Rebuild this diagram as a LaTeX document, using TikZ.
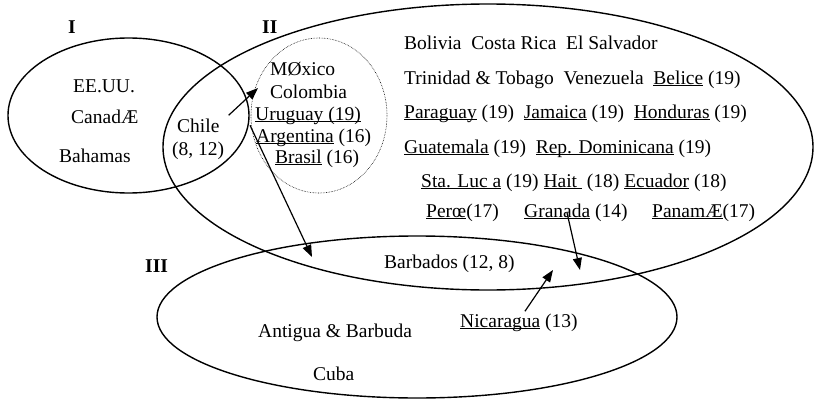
\documentclass[tikz,border=0pt]{standalone}
\usepackage{fontspec}
\setmainfont{Liberation Serif}
\usepackage{tikz}
\usetikzlibrary{shapes.geometric}
\usetikzlibrary{arrows.meta}
\newcommand{\undl}[1]{\underline{\smash{#1}}}

\begin{document}
\begin{tikzpicture}[x=1pt, y=-1pt,
        font=\fontsize{19.5}{23}\selectfont,
        group/.style={ellipse, draw=black, line width=1.4pt, inner sep=0pt},
        subgroup/.style={ellipse, draw=black, densely dotted, line width=0.6pt, inner sep=0pt},
        numeral/.style={anchor=base west, inner sep=0pt, font=\fontsize{19.5}{23}\selectfont\bfseries},
        country/.style={anchor=base west, inner sep=0pt},
        flow/.style={-{Triangle[length=12pt, width=9pt]}, line width=1.2pt}
    ]
    \useasboundingbox (0,0) rectangle (815,399);

    % the three groups and the dotted subgroup
    \node[group, minimum width=241pt, minimum height=155pt] (set_I) at (128.5,115.5) {};
    \node[group, minimum width=650pt, minimum height=286pt] (set_II) at (488,147) {};
    \node[group, minimum width=520pt, minimum height=162pt] (set_III) at (417,317) {};
    \node[subgroup, minimum width=136pt, minimum height=155pt] (sub_II) at (319,115.5) {};

    \node[numeral] (num_I) at (68,33) {I};
    \node[numeral] (num_II) at (262,33) {II};
    \node[numeral] (num_III) at (145,272) {III};

    % group I
    \node[country] (usa) at (73,92) {EE.UU.};
    \node[country] (can) at (71,123) {CanadÆ};
    \node[country] (bah) at (59,162) {Bahamas};
    \node[country] (chile) at (177,132) {Chile};
    \node[country] (chile_n) at (172,155) {(8, 12)};

    % dotted subgroup
    \node[country] (mex) at (270,75) {MØxico};
    \node[country] (col) at (270,98) {Colombia};
    \node[country] (uru) at (255,120) {\undl{Uruguay (19)}};
    \node[country] (arg) at (256,142) {\undl{Argentina} (16)};
    \node[country] (bra) at (275,163) {\undl{Brasil} (16)};

    % group II
    \node[country] (row_1) at (404,49) {Bolivia~~Costa Rica~~El Salvador};
    \node[country] (row_2) at (404,84) {Trinidad \& Tobago~~Venezuela~~\undl{Belice} (19)};
    \node[country] (row_3) at (404,118) {\undl{Paraguay} (19)~~\undl{Jamaica} (19)~~\undl{Honduras} (19)};
    \node[country] (row_4) at (404,153) {\undl{Guatemala} (19)~~\undl{Rep. Dominicana} (19)};
    \node[country] (row_5) at (421,187) {\undl{Sta. Luc a} (19) \undl{Hait\ } (18) \undl{Ecuador} (18)};
    \node[country] (peru) at (426,217) {\undl{Perœ}(17)};
    \node[country] (gra) at (524,217) {\undl{Granada} (14)};
    \node[country] (pan) at (652,217) {\undl{PanamÆ}(17)};

    % group III
    \node[country] (bar) at (384,268) {Barbados (12, 8)};
    \node[country] (nic) at (460,327) {\undl{Nicaragua} (13)};
    \node[country] (ant) at (258,337) {Antigua \& Barbuda};
    \node[country] (cuba) at (313,380) {Cuba};

    \coordinate (TIP_MX) at (258,88);
    \coordinate (TIP_BB) at (312,257);
    \coordinate (TIP_GR) at (580,270);
    \coordinate (TIP_NI) at (553,270);

    \draw[flow] ([xshift=9pt,yshift=3pt]chile.north east) to (TIP_MX);
    \draw[flow] ([xshift=-6pt,yshift=3pt]arg.north west) to (TIP_BB);
    \draw[flow] ([xshift=-9pt]gra.center) to (TIP_GR);
    \draw[flow] ([xshift=6pt,yshift=2pt]nic.north) to (TIP_NI);
\end{tikzpicture}
\end{document}
